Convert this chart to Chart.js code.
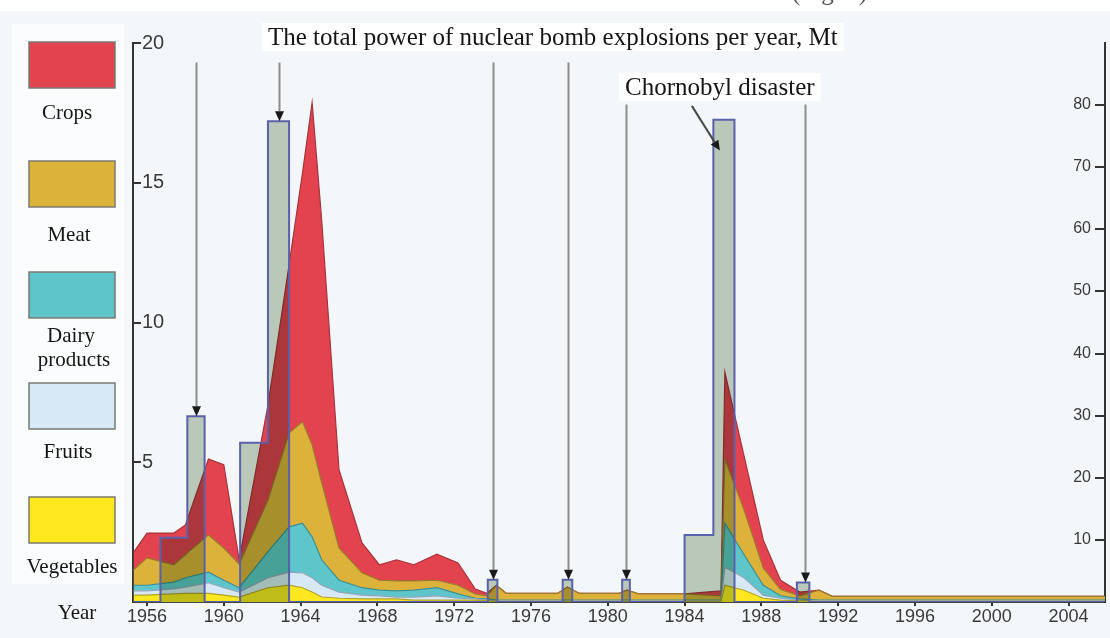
<!DOCTYPE html>
<html>
<head>
<meta charset="utf-8">
<title>Nuclear bomb explosions and food contamination</title>
<script src="https://cdn.jsdelivr.net/npm/chart.js@4.4.1/dist/chart.umd.min.js"></script>
<style>
  html, body { margin: 0; padding: 0; background: #f3f7fa; }
  #wrap { width: 1110px; height: 638px; }
</style>
</head>
<body>
<div id="wrap"><canvas id="chart" width="1110" height="638"></canvas></div>
<script>
// years where the stacked food curves have a vertex
const YEARS = [1955.3, 1956.0, 1957.4, 1958.0, 1959.2, 1960.0, 1960.8, 1962.3, 1963.4, 1964.1,
  1964.6, 1965.1, 1966.0, 1967.2, 1968.1, 1969.0, 1969.9, 1971.1, 1972.2, 1973.1,
  1973.7, 1974.2, 1974.7, 1977.4, 1977.9, 1978.5, 1980.6, 1981.0, 1981.6, 1984.0,
  1985.9, 1986.1, 1987.1, 1988.1, 1989.0, 1990.0, 1991.0, 1991.7, 2006.0];

// right axis units, one value per year above (stacked bottom -> top)
const VEGETABLES = [1.1, 1.1, 1.3, 1.4, 1.4, 1.1, 0.8, 2.3, 2.7, 2.3, 1.6, 0.8, 0.6, 0.5, 0.5, 0.5, 0.3, 0.3, 0.3, 0.3,
  0.2, 0.1, 0.1, 0.1, 0.1, 0.1, 0.1, 0.1, 0.1, 0.1, 0.1, 2.7, 1.9, 0.6, 0.3, 0.2, 0.1, 0.1, 0.1];
const FRUITS = [0.7, 0.7, 0.8, 1.0, 1.7, 1.2, 0.8, 1.6, 2.1, 2.4, 2.3, 1.9, 1.0, 0.6, 0.5, 0.3, 0.5, 0.7, 0.3, 0.2,
  0.1, 0.1, 0.1, 0.1, 0.1, 0.1, 0.1, 0.1, 0.1, 0.1, 0.1, 2.9, 2.0, 0.5, 0.3, 0.1, 0.1, 0.1, 0.1];
const DAIRY = [0.9, 0.9, 1.1, 1.5, 1.7, 1.2, 0.7, 4.2, 7.3, 8.0, 6.6, 4.1, 1.9, 1.2, 0.9, 1.0, 1.1, 1.3, 0.7, 0.1,
  0.2, 0.1, 0.1, 0.1, 0.1, 0.1, 0.1, 0.1, 0.1, 0.1, 0.1, 7.1, 3.7, 1.6, 0.4, 0.2, 0.1, 0.1, 0.1];
const MEAT = [2.5, 4.4, 2.8, 3.7, 6.0, 5.2, 3.8, 8.3, 15.1, 16.3, 14.8, 12.4, 5.2, 2.4, 1.6, 1.6, 1.5, 1.2, 1.4, 0.7,
  0.5, 2.4, 1.1, 1.1, 2.1, 1.1, 1.1, 1.6, 1.0, 1.0, 0.7, 10.3, 7.2, 2.8, 1.0, 0.5, 1.6, 0.6, 0.6];
const CROPS = [2.8, 4.0, 5.1, 4.8, 12.2, 13.4, 0.7, 15.3, 27.1, 40.1, 55.1, 42.2, 12.6, 4.8, 2.5, 3.4, 2.6, 4.2, 3.6, 0.8,
  0.4, 0, 0, 0, 0, 0, 0, 0, 0, 0, 0.8, 14.0, 8.7, 4.5, 1.5, 0.6, 0, 0, 0];

// nuclear bomb power, Mt (left axis); each value holds until the next year in the list
const BOMB_YEARS = [1955.3, 1956.7, 1958.1, 1959.0, 1960.85, 1962.3, 1963.4, 1973.75, 1974.25, 1977.65,
  1978.15, 1980.75, 1981.15, 1984.0, 1985.5, 1986.6, 1989.85, 1990.5, 2006.0];
const BOMB_MT = [0, 2.3, 6.65, 0, 5.7, 17.2, 0, 0.8, 0, 0.8,
  0, 0.8, 0, 2.4, 17.25, 0, 0.7, 0, 0];

// arrows pointing at the bars
const ARROW_YEARS = [1958.55, 1962.87, 1974.0, 1977.95, 1980.95, 1990.27];
const ARROW_FROM = [19.3, 19.3, 19.3, 19.3, 17.8, 17.8];
const ARROW_TO = [6.65, 17.2, 0.8, 0.8, 0.8, 0.7];

const YEAR_TICKS = [1956, 1960, 1964, 1968, 1972, 1976, 1980, 1984, 1988, 1992, 1996, 2000, 2004];
const LEFT_TICKS = [5, 10, 15, 20];
const RIGHT_TICKS = [10, 20, 30, 40, 50, 60, 70, 80];

const SERIES_NAMES = ['Vegetables', 'Fruits', 'Dairy products', 'Meat', 'Crops'];
const SERIES_FILL = ['#fde81f', '#d7e8f7', '#5ec6cb', '#dcb23a', '#e2434f'];
const SERIES_LINE = ['#b3a22a', '#8fa6ba', '#3a8f93', '#9a782c', '#a8343c'];
const SERIES_VALUES = [VEGETABLES, FRUITS, DAIRY, MEAT, CROPS];

const SERIF = '"Liberation Serif", "Times New Roman", serif';
const SANS = '"Liberation Sans", Arial, sans-serif';

var datasets = [];
for (var i = 0; i < SERIES_NAMES.length; i++) {
    var vals = SERIES_VALUES[i];
    datasets.push({
        label: SERIES_NAMES[i],
        data: YEARS.map(function(yr, k){ return {x: yr, y: vals[k]}; }),
        yAxisID: 'y1',
        backgroundColor: SERIES_FILL[i],
        borderColor: SERIES_LINE[i],
        borderWidth: 1.2,
        pointRadius: 0,
        tension: 0,
        fill: i == 0 ? 'origin' : '-1',
        order: 2
    });
}
var bombPoints = BOMB_YEARS.map(function(yr, k){ return {x: yr, y: BOMB_MT[k]}; });
// bar body, laid over the food curves with a multiply blend
datasets.push({
    label: 'bomb power fill',
    data: bombPoints,
    yAxisID: 'y',
    stepped: 'before',
    backgroundColor: '#c2cfbd',
    borderWidth: 0,
    pointRadius: 0,
    fill: 'origin',
    order: 1
});
// bar outline on top of everything
datasets.push({
    label: 'bomb power',
    data: bombPoints,
    yAxisID: 'y',
    stepped: 'before',
    borderColor: '#5b60aa',
    borderWidth: 2,
    pointRadius: 0,
    fill: false,
    order: 0
});
const LAST_AREA = 0;       // vegetables is drawn last of the areas
const BAR_FILL = 5;

function drawArrow(ctx, x1, y1, x2, y2, lineColor) {
    var ang = Math.atan2(y2 - y1, x2 - x1);
    var len = 10, half = 4.5;
    var bx = x2 - Math.cos(ang) * len, by = y2 - Math.sin(ang) * len;
    ctx.strokeStyle = lineColor;
    ctx.lineWidth = 2;
    ctx.beginPath();
    ctx.moveTo(x1, y1);
    ctx.lineTo(bx, by);
    ctx.stroke();
    ctx.fillStyle = '#1a1a1a';
    ctx.beginPath();
    ctx.moveTo(x2, y2);
    ctx.lineTo(bx - Math.sin(ang) * half, by + Math.cos(ang) * half);
    ctx.lineTo(bx + Math.sin(ang) * half, by - Math.cos(ang) * half);
    ctx.closePath();
    ctx.fill();
}

function labelBox(ctx, text, x, y, font, padX, padY) {
    ctx.font = font;
    var w = ctx.measureText(text).width;
    ctx.fillStyle = '#ffffff';
    ctx.fillRect(x - padX, y - padY, w + padX * 2, padY * 2);
    ctx.fillStyle = '#151515';
    ctx.textAlign = 'left';
    ctx.textBaseline = 'middle';
    ctx.fillText(text, x, y + 1);
}

const decor = {
    id: 'decor',
    beforeDraw: function(chart) {
        var ctx = chart.ctx;
        ctx.save();
        ctx.fillStyle = '#f3f7fa';
        ctx.fillRect(0, 0, chart.width, chart.height);
        ctx.fillStyle = '#ffffff';
        ctx.fillRect(0, 0, chart.width, 11);
        // white panel behind the legend labels
        ctx.fillStyle = '#fbfcfd';
        ctx.fillRect(12, 24, 112, 560);
        ctx.restore();
    },
    afterDatasetDraw: function(chart, args) {
        // the bar body multiplies over the areas, then normal drawing again
        if (args.index === LAST_AREA) chart.ctx.globalCompositeOperation = 'multiply';
        if (args.index === BAR_FILL) chart.ctx.globalCompositeOperation = 'source-over';
    },
    afterDraw: function(chart) {
        var ctx = chart.ctx;
        var xs = chart.scales.x, ys = chart.scales.y, yr = chart.scales.y1;
        var area = chart.chartArea;
        ctx.save();
        ctx.globalCompositeOperation = 'source-over';

        // inward tick marks on both value axes, right labels sit inside the plot
        ctx.strokeStyle = '#333';
        ctx.lineWidth = 2;
        LEFT_TICKS.forEach(function(v){
            var py = Math.round(ys.getPixelForValue(v));
            ctx.beginPath(); ctx.moveTo(area.left, py); ctx.lineTo(area.left + 8, py); ctx.stroke();
        });
        ctx.fillStyle = '#3a3a3a';
        ctx.font = '16px ' + SANS;
        ctx.textAlign = 'right';
        ctx.textBaseline = 'middle';
        RIGHT_TICKS.forEach(function(v){
            var py = Math.round(yr.getPixelForValue(v));
            ctx.beginPath(); ctx.moveTo(area.right - 10, py); ctx.lineTo(area.right, py); ctx.stroke();
            ctx.fillText(String(v), area.right - 14, py);
        });

        // arrows to the bars
        for (var i = 0; i < ARROW_YEARS.length; i++) {
            var ax = Math.round(xs.getPixelForValue(ARROW_YEARS[i])) + 0.5;
            drawArrow(ctx, ax, ys.getPixelForValue(ARROW_FROM[i]), ax, ys.getPixelForValue(ARROW_TO[i]), '#8c8c8c');
        }
        drawArrow(ctx, xs.getPixelForValue(1984.38), ys.getPixelForValue(17.75),
                  xs.getPixelForValue(1985.84), ys.getPixelForValue(16.15), '#4a4a4a');

        // titles
        labelBox(ctx, 'The total power of nuclear bomb explosions per year, Mt', 268, 37, '25px ' + SERIF, 6, 14);
        labelBox(ctx, 'Chornobyl disaster', 625, 87, '25px ' + SERIF, 6, 14);

        ctx.font = '25px ' + SERIF;
        ctx.fillStyle = '#555';
        ctx.textAlign = 'left';
        ctx.textBaseline = 'alphabetic';
        ctx.fillText('(Fig. 1)', 792, 0);

        // legend on the left
        var boxTops = [497, 383, 272, 161, 42];
        var labels = [[['Vegetables', 72, 567]], [['Fruits', 68, 452]],
                      [['Dairy', 71, 336], ['products', 74, 360]], [['Meat', 69, 235]], [['Crops', 67, 113]]];
        for (var s = 0; s < SERIES_NAMES.length; s++) {
            ctx.fillStyle = SERIES_FILL[s];
            ctx.fillRect(29, boxTops[s], 86, 46);
            ctx.strokeStyle = '#7a7a72';
            ctx.lineWidth = 1.5;
            ctx.strokeRect(29, boxTops[s], 86, 46);
            ctx.fillStyle = '#151515';
            ctx.font = '21px ' + SERIF;
            ctx.textAlign = 'center';
            ctx.textBaseline = 'middle';
            labels[s].forEach(function(l){ ctx.fillText(l[0], l[1], l[2]); });
        }
        ctx.fillText('Year', 77, 613);
        ctx.restore();
    }
};

const chart = new Chart(document.getElementById('chart').getContext('2d'), {
    type: 'line',
    data: { datasets: datasets },
    plugins: [decor],
    options: {
        responsive: false,
        animation: false,
        events: [],
        layout: { padding: { left: 133, right: 5, top: 43, bottom: 0 } },
        plugins: { legend: { display: false }, tooltip: { enabled: false } },
        scales: {
            x: {
                type: 'linear',
                min: 1955.27,
                max: 2005.9,
                z: 1,
                afterBuildTicks: function(s){ s.ticks = YEAR_TICKS.map(function(v){ return {value: v}; }); },
                afterFit: function(s){ s.height = 36; },
                grid: { drawOnChartArea: false, drawTicks: true, tickLength: 4, color: '#333', lineWidth: 2 },
                border: { color: '#444', width: 2 },
                ticks: {
                    autoSkip: false, maxRotation: 0, padding: 0,
                    color: '#3a3a3a', font: { family: SANS, size: 18 },
                    callback: function(v){ return String(v); }
                }
            },
            y: {
                position: 'left',
                min: 0,
                max: 20,
                afterBuildTicks: function(s){ s.ticks = LEFT_TICKS.map(function(v){ return {value: v}; }); },
                afterFit: function(s){ s.width = 0; },
                grid: { drawOnChartArea: false, drawTicks: false },
                border: { color: '#333', width: 2 },
                ticks: { mirror: true, padding: 9, color: '#3a3a3a', font: { family: SANS, size: 20 } }
            },
            y1: {
                position: 'right',
                min: 0,
                max: 90,
                stacked: true,
                afterBuildTicks: function(s){ s.ticks = RIGHT_TICKS.map(function(v){ return {value: v}; }); },
                afterFit: function(s){ s.width = 0; },
                grid: { drawOnChartArea: false, drawTicks: false },
                border: { color: '#333', width: 2 },
                ticks: { display: false }
            }
        }
    }
});
</script>
</body>
</html>
